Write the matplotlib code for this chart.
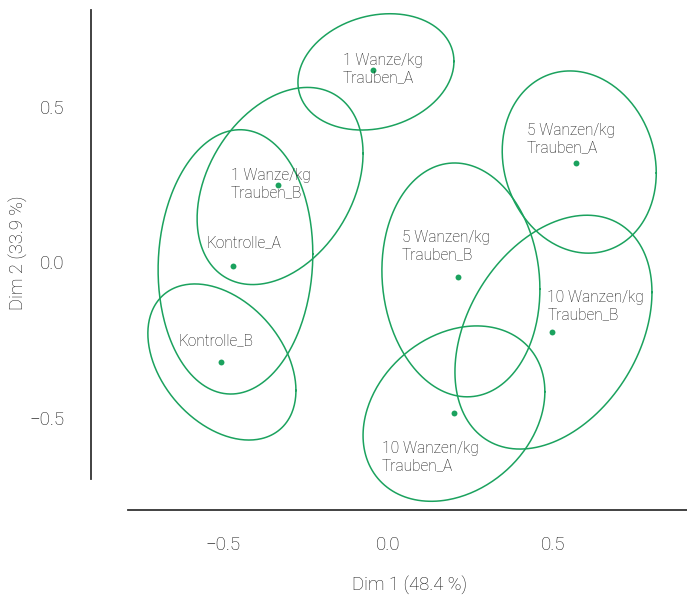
import numpy as np
import matplotlib
matplotlib.use("Agg")
import matplotlib.pyplot as plt

# ---------------- DATA ----------------
groups = ["1 Wanze/kg\nTrauben_A", "5 Wanzen/kg\nTrauben_A", "1 Wanze/kg\nTrauben_B",
          "Kontrolle_A", "5 Wanzen/kg\nTrauben_B", "10 Wanzen/kg\nTrauben_B",
          "Kontrolle_B", "10 Wanzen/kg\nTrauben_A"]
dim1 = [-0.044, 0.569, -0.332, -0.468, 0.211, 0.496, -0.504, 0.200]
dim2 = [0.620, 0.321, 0.249, -0.010, -0.048, -0.224, -0.319, -0.483]

# confidence ellipses: half extent in x, half extent in y, correlation
ell_sx = [0.236, 0.233, 0.251, 0.234, 0.239, 0.298, 0.224, 0.275]
ell_sy = [0.187, 0.293, 0.317, 0.425, 0.376, 0.376, 0.251, 0.282]
ell_rho = [0.18, -0.12, 0.33, 0.06, -0.08, 0.34, -0.365, 0.25]
ell_dx = [0.008, 0.010, 0.006, 0.007, 0.010, 0.005, 0.002, 0.0]
ell_dy = [-0.007, 0.002, -0.003, 0.012, -0.008, 0.0, -0.001, -0.003]

# label anchors (left edge, vertical centre)
lab_x = [-0.136, 0.421, -0.475, -0.550, 0.043, 0.482, -0.632, -0.018]
lab_y = [0.622, 0.397, 0.252, 0.063, 0.053, -0.139, -0.253, -0.626]

xlab = "Dim 1 (48.4 %)"
ylab = "Dim 2 (33.9 %)"

# ---------------- STYLE ----------------
plt.rcParams['font.family'] = ['Roboto', 'DejaVu Sans']
green = "#1ba25e"
grey = "#141414"

fig = plt.figure(figsize=(6.87, 5.99), dpi=100)
ax = fig.add_axes([91/687, 89/599, 1 - 91/687, (510-10)/599])

t = np.linspace(0, 2*np.pi, 300)
for i in range(len(groups)):
    cx = dim1[i] + ell_dx[i]
    cy = dim2[i] + ell_dy[i]
    r = ell_rho[i]
    ex = cx + ell_sx[i]*np.cos(t)
    ey = cy + ell_sy[i]*(r*np.cos(t) + np.sqrt(1 - r*r)*np.sin(t))
    ax.plot(ex, ey, color=green, lw=1.1)

ax.scatter(dim1, dim2, s=18, color=green, zorder=3, linewidths=0)

for i, g in enumerate(groups):
    ax.text(lab_x[i], lab_y[i], g, ha="left", va="center", fontsize=11.2,
            color=grey, fontweight="light", linespacing=1.2)

ax.set_xlim(-0.898, 0.905)
ax.set_ylim(-0.796, 0.812)
ax.set_xticks([-0.5, 0.0, 0.5])
ax.set_yticks([-0.5, 0.0, 0.5])
ax.set_xticklabels(["\u22120.5", "0.0", "0.5"])
ax.set_yticklabels(["\u22120.5", "0.0", "0.5"])
ax.tick_params(length=0, labelsize=13.5, labelcolor=grey)
ax.tick_params(axis="y", pad=19)
ax.tick_params(axis="x", pad=19)
for lbl in ax.get_xticklabels() + ax.get_yticklabels():
    lbl.set_fontweight("light")

for s in ["top", "right"]:
    ax.spines[s].set_visible(False)
for s in ["left", "bottom"]:
    ax.spines[s].set_color("#333333")
    ax.spines[s].set_linewidth(1.3)
ax.spines["left"].set_bounds(-0.697, 0.812)
ax.spines["bottom"].set_bounds(-0.786, 0.905)

ax.set_xlabel(xlab, fontsize=13.3, color=grey, fontweight="light")
ax.set_ylabel(ylab, fontsize=13.3, color=grey, fontweight="light")
ax.xaxis.set_label_coords((410 - 91) / 596, -65 / 500)
ax.yaxis.set_label_coords(-64 / 596, 257 / 500)

fig.savefig("out.png", dpi=100)
